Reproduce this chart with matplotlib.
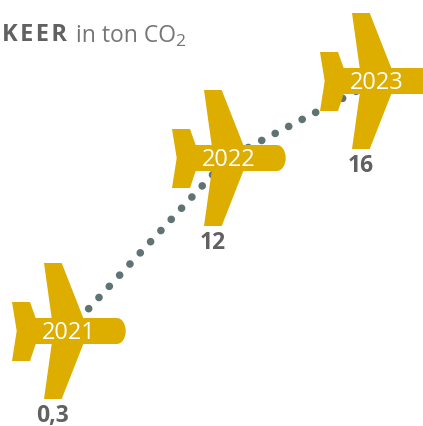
"""Plane chart: yearly CO2 per flight step, planes joined by a dotted line."""
import numpy as np
import matplotlib
matplotlib.use("Agg")  # headless
import matplotlib.pyplot as plt
from matplotlib.patches import PathPatch
from matplotlib.path import Path
from matplotlib.transforms import Affine2D

years = [2021, 2022, 2023]
tons = [0.3, 12, 16]
value_labels = ["0,3", "12", "16"]

W, H = 423, 426
GOLD = "#DDAD00"
DOTS = "#5F7373"
GREY = "#616161"

# the original axes are hand placed, so the scales are piecewise
x_year, x_px = [2020.575, 2021, 2022, 2023, 2023.317], [0, 68, 228, 376, 423]
y_ton, y_px = [-4, 0.3, 12, 16, 21], [0, 95, 268, 345, 426]

# plane outline in pixels round its centre, y pointing down
M, L, C = Path.MOVETO, Path.LINETO, Path.CURVE4
plane = [
    (M, -56, -29), (L, -38, -29), (L, -32.3, -13), (L, -16.3, -13), (L, -24, -68),
    (L, -6.3, -68), (L, 15.3, -13), (L, 48.7, -13),
    (C, 54, -13), (C, 57.7, -7), (C, 57.7, 0),
    (C, 57.7, 7), (C, 54, 13), (C, 48.7, 13),
    (L, 15.3, 13), (L, -6.3, 68), (L, -24, 68), (L, -16.3, 13), (L, -32.3, 13),
    (L, -38, 30), (L, -56, 30), (L, -51.3, 0), (Path.CLOSEPOLY, -56, -29),
]
plane_path = Path([p[1:] for p in plane], [p[0] for p in plane])

plt.rcParams["font.family"] = ["Open Sans", "DejaVu Sans"]

fig = plt.figure(figsize=(W / 100, H / 100), dpi=100)
ax = fig.add_axes([0, 0, 1, 1])
ax.set_xscale("function", functions=(lambda v: np.interp(v, x_year, x_px),
                                     lambda p: np.interp(p, x_px, x_year)))
ax.set_yscale("function", functions=(lambda v: np.interp(v, y_ton, y_px),
                                     lambda p: np.interp(p, y_px, y_ton)))
ax.set_xlim(x_year[0], x_year[-1])
ax.set_ylim(y_ton[0], y_ton[-1])
ax.axis("off")

# near-zero dash with round caps gives the dots (an exact 0 draws nothing)
ax.plot(years, tons, color=DOTS, lw=5.5, ls=(0, (0.01, 1.98)), dash_capstyle="round", zorder=1)

for year, ton, label in zip(years, tons, value_labels):
    cx, cy = ax.transData.transform((year, ton))
    ax.add_artist(PathPatch(plane_path, facecolor=GOLD, edgecolor="none", zorder=2,
                            transform=Affine2D().scale(1, -1).translate(cx, cy)))
    ax.annotate(str(year), (year, ton), xytext=(0.5, 1), textcoords="offset points", color="white",
                fontsize=17, ha="center", va="center_baseline", zorder=3, annotation_clip=False)
    ax.annotate(label, (year, ton), xytext=(-11, -61), textcoords="offset points", color=GREY,
                fontsize=16.5, fontweight="bold", ha="center", va="center", zorder=3,
                annotation_clip=False)

fig.text(2 / W, 1 - 41 / H, "K\u200aE\u200aE\u200aR", color=GREY, fontsize=17, fontweight="bold",
         ha="left", va="baseline")
fig.text(76 / W, 1 - 41.5 / H, "in ton CO", color="#767676", fontsize=16.5, ha="left", va="baseline")
fig.text(175 / W, 1 - 46 / H, "2", color="#767676", fontsize=12.5, ha="left", va="baseline")

fig.savefig("out.png", dpi=100)
plt.close(fig)
